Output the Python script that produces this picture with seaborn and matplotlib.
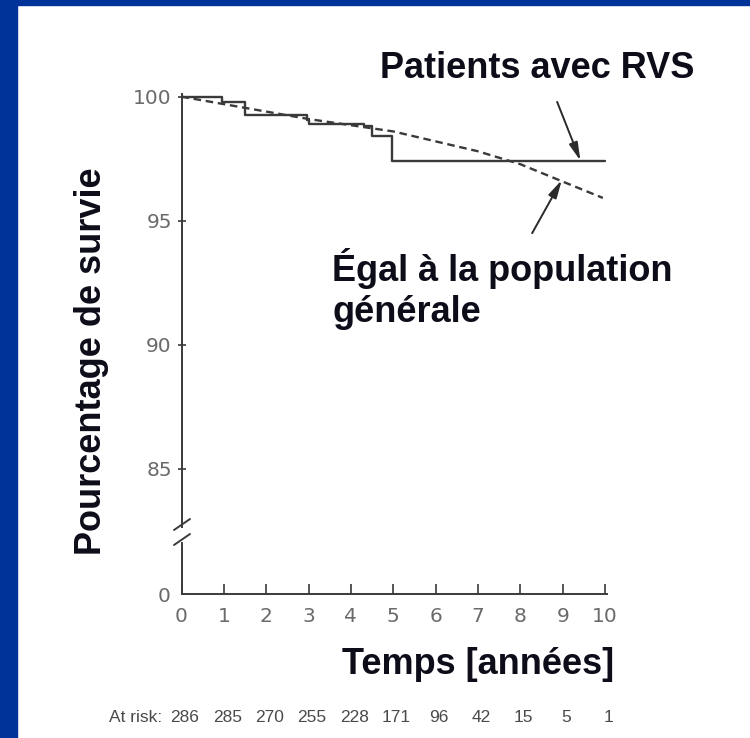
import matplotlib
matplotlib.use('Agg')
import matplotlib.pyplot as plt
from matplotlib.patches import Rectangle
import seaborn as sns
import pandas as pd

# --- data ---
km_time = [0, 0.95, 1.5, 2.96, 3.02, 4.3, 4.49, 4.96, 10.0]
km_surv = [100, 99.8, 99.27, 99.06, 98.88, 98.8, 98.43, 97.39, 97.39]

pop_time = [0, 1, 2, 3, 4, 5, 6, 7, 8, 9, 9.95]
pop_surv = [100, 99.7, 99.4, 99.1, 98.85, 98.6, 98.2, 97.8, 97.28, 96.58, 95.92]

year_ticks = list(range(0, 11))
surv_ticks = [85, 90, 95, 100]
at_risk = [286, 285, 270, 255, 228, 171, 96, 42, 15, 5, 1]

sns.set_theme(style='white')
plt.rcParams['font.family'] = ['Liberation Sans', 'DejaVu Sans']

W, H = 750, 738
fig = plt.figure(figsize=(W / 100, H / 100), dpi=100)
fig.patch.set_facecolor('white')

# slide frame: blue band on the left and top
fig.patches.append(Rectangle((0, 0), 17 / W, 1, transform=fig.transFigure,
                             color='#003399', zorder=0))
fig.patches.append(Rectangle((0, 1 - 5 / H), 1, 5 / H, transform=fig.transFigure,
                             color='#003399', zorder=0))


def fx(px):
    return px / W


def fy(py):
    return 1 - py / H


ax_top = fig.add_axes([fx(181.5), fy(527), 425.6 / W, (527 - 94.2) / H])
ax_bot = fig.add_axes([fx(181.5), fy(594), 425.6 / W, 51 / H])

line_col = '#3a3a3a'
tick_col = '#6a6a6a'

km_df = pd.DataFrame({'t': km_time, 's': km_surv})
pop_df = pd.DataFrame({'t': pop_time, 's': pop_surv})

sns.lineplot(data=km_df, x='t', y='s', ax=ax_top, drawstyle='steps-post',
             color=line_col, lw=1.7, clip_on=False, sort=False)
sns.lineplot(data=pop_df, x='t', y='s', ax=ax_top, color=line_col, lw=1.7,
             linestyle=(0, (3.2, 2.0)), clip_on=False)

for ax in (ax_top, ax_bot):
    ax.set_xlim(0, 10.05)
    ax.set_facecolor('none')
    ax.set_xlabel('')
    ax.set_ylabel('')
    for side in ('top', 'right'):
        ax.spines[side].set_visible(False)
    for side in ('left', 'bottom'):
        ax.spines[side].set_color(line_col)
        ax.spines[side].set_linewidth(1.4)

ax_top.set_ylim(82.66, 100.1)
ax_top.spines['bottom'].set_visible(False)
ax_top.set_xticks([])
ax_top.set_yticks(surv_ticks)
ax_top.tick_params(axis='y', direction='inout', length=6, width=1.2,
                   color=line_col, labelcolor=tick_col, labelsize=14.5, pad=4, left=True)

ax_bot.set_ylim(0, 2)
ax_bot.set_yticks([0])
ax_bot.set_xticks(year_ticks)
ax_bot.tick_params(axis='y', direction='inout', length=0, labelcolor=tick_col,
                   labelsize=14.5, pad=8, left=True)
ax_bot.tick_params(axis='x', direction='in', length=7, width=1.2, color=line_col,
                   labelcolor=tick_col, labelsize=14.5, pad=9, bottom=True)
for lab in ax_top.get_yticklabels() + ax_bot.get_yticklabels() + ax_bot.get_xticklabels():
    lab.set_family('DejaVu Sans')

# axis break marks
for y0 in (519, 534):
    fig.add_artist(plt.Line2D([fx(174), fx(190)], [fy(y0 + 11), fy(y0)],
                              color=line_col, lw=1.4))

# at-risk row
row_y = -2.43
ax_bot.text(-0.45, row_y, 'At risk:', transform=ax_bot.get_xaxis_transform(),
            ha='right', va='center', fontsize=12.5, color='#4a4a4a')
for yr, n in zip(year_ticks, at_risk):
    ax_bot.text(yr + 0.08, row_y, str(n), transform=ax_bot.get_xaxis_transform(),
                ha='center', va='center', fontsize=12.5, color='#4a4a4a')

# annotation arrows
arrow = dict(arrowstyle='-|>,head_length=0.9,head_width=0.22', color='#2a2a2a',
             lw=1.4, shrinkA=0, shrinkB=0)
ax_top.annotate('', xy=(9.42, 97.42), xytext=(8.87, 99.79), arrowprops=arrow,
                annotation_clip=False)
ax_top.annotate('', xy=(8.98, 96.64), xytext=(8.28, 94.5), arrowprops=arrow,
                annotation_clip=False)

txt = dict(fontsize=26, fontweight='bold', color='#0d0d1a')
fig.text(fx(380), fy(78), 'Patients avec RVS', ha='left', va='baseline', **txt)
fig.text(fx(332), fy(281), 'Égal à la population', ha='left', va='baseline', **txt)
fig.text(fx(332), fy(322), 'générale', ha='left', va='baseline', **txt)
fig.text(fx(342), fy(674), 'Temps [années]', ha='left', va='baseline', **txt)
fig.text(fx(92), fy(361), 'Pourcentage de survie', rotation=90,
         ha='center', va='center', **txt)

fig.savefig('out.png', dpi=100)
